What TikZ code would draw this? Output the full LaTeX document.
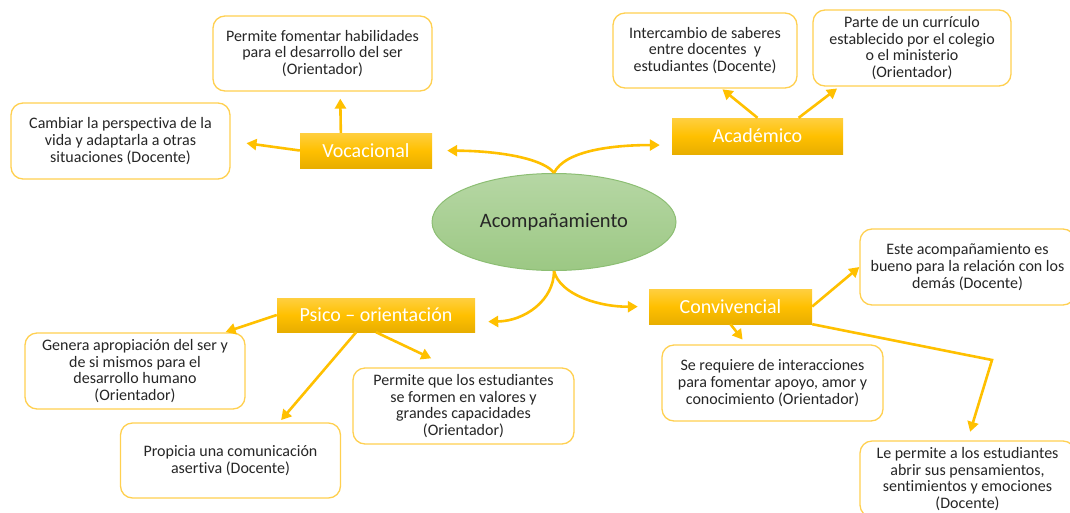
\documentclass[tikz,border=0pt]{standalone}
\usepackage{fontspec}
\setmainfont{Carlito}[Ligatures={NoCommon}]
\usetikzlibrary{arrows.meta,calc,shapes.geometric}
\definecolor{gold}{RGB}{255,192,0}
\definecolor{boxline}{RGB}{255,208,80}
\definecolor{txt}{RGB}{38,38,38}
\definecolor{cattop}{RGB}{255,207,64}
\definecolor{catmid}{RGB}{255,192,0}
\definecolor{catbot}{RGB}{232,174,0}
\definecolor{elltop}{RGB}{182,215,164}
\definecolor{ellbot}{RGB}{156,200,132}
\definecolor{elldraw}{RGB}{140,190,115}
\begin{document}
\begin{tikzpicture}[x=1pt,y=-1pt,
  infobox/.style={draw=boxline, line width=1.3pt, rounded corners=12pt, fill=white,
    inner sep=0pt, align=center, text=txt, font=\fontsize{16}{16.8}\selectfont},
  catbox/.style={draw=none, top color=cattop, bottom color=catbot, middle color=catmid,
    inner sep=0pt, text=white, font=\fontsize{20}{22}\selectfont},
  arr/.style={draw=gold, line width=2.6pt, -{Triangle[length=10pt,width=11pt]}}]
\useasboundingbox (0,0) rectangle (1070,512);
\clip (0,0) rectangle (1070,512);

% central ellipse
\node[ellipse, draw=elldraw, line width=1pt, top color=elltop, bottom color=ellbot,
  minimum width=244pt, minimum height=97pt, inner sep=0pt, text=txt,
  font=\fontsize{20.5}{22}\selectfont] (ell) at (554,222) {Acompañamiento};

% category boxes
\node[catbox, minimum width=132pt, minimum height=35pt] (voc) at (366,150.5) {Vocacional};
\node[catbox, minimum width=171pt, minimum height=36pt] (aca) at (757.5,136) {Académico};
\node[catbox, minimum width=198pt, minimum height=34pt] (psi) at (376,315) {Psico -- orientación};
\node[catbox, minimum width=163pt, minimum height=35pt] (con) at (730.5,306.5) {Convivencial};

% info boxes
\node[infobox, minimum width=219pt, minimum height=75pt] (pf) at (322.5,53.5)
  {Permite fomentar habilidades\\para el desarrollo del ser\\(Orientador)};
\node[infobox, minimum width=219pt, minimum height=76pt] (cam) at (120.5,141)
  {Cambiar la perspectiva de la\\vida y adaptarla a otras\\situaciones (Docente)};
\node[infobox, minimum width=184pt, minimum height=75pt] (ic) at (705,50.5)
  {Intercambio de saberes\\entre docentes\ \ y\\estudiantes (Docente)};
\node[infobox, minimum width=198pt, minimum height=76pt] (pa) at (912,48)
  {Parte de un currículo\\establecido por el colegio\\o el ministerio\\(Orientador)};
\node[infobox, minimum width=220pt, minimum height=76pt] (gen) at (135,371)
  {Genera apropiación del ser y\\de si mismos para el\\desarrollo humano\\(Orientador)};
\node[infobox, minimum width=221pt, minimum height=76pt] (pq) at (463.5,406)
  {Permite que los estudiantes\\se formen en valores y\\grandes capacidades\\(Orientador)};
\node[infobox, minimum width=220pt, minimum height=75pt] (pro) at (230.5,460.5)
  {Propicia una comunicación\\asertiva (Docente)};
\node[infobox, minimum width=215pt, minimum height=76pt] (est) at (967.5,267)
  {Este acompañamiento es\\bueno para la relación con los\\demás (Docente)};
\node[infobox, minimum width=221pt, minimum height=76pt] (sr) at (772.5,383)
  {Se requiere de interacciones\\para fomentar apoyo, amor y\\conocimiento (Orientador)};
\node[infobox, minimum width=215pt, minimum height=76pt] (lp) at (967.5,479)
  {Le permite a los estudiantes\\abrir sus pensamientos,\\sentimientos y emociones\\(Docente)};

% connectors from the centre
\draw[arr, shorten >=15pt] (ell.north) .. controls (545,160) and (505,151) .. (voc.east);
\draw[arr, shorten >=12pt] (ell.north) .. controls (565,150) and (615,145) ..
  ($(aca.south west)!0.25!(aca.north west)$);
\draw[arr, shorten >=13pt] (ell.south) .. controls (554,300) and (525,321) ..
  ($(psi.south east)!0.3!(psi.north east)$);
\draw[arr, shorten >=11pt] (ell.south) .. controls (560,295) and (600,307) .. (con.west);

% Vocacional
\draw[arr, shorten >=7pt] ($(voc.north west)!0.31!(voc.north east)$) --
  ($(pf.south west)!0.58!(pf.south east)$);
\draw[arr, shorten >=16pt] (voc.west) -- (cam.east);

% Academico
\draw[arr, shorten >=1pt] (aca.north) -- ($(ic.south west)!0.59!(ic.south east)$);
\draw[arr, shorten >=3pt] ($(aca.north west)!0.74!(aca.north east)$) --
  ($(pa.south west)!0.136!(pa.south east)$);

% Psico-orientacion
\draw[arr, shorten >=1pt] (psi.west) -- ($(gen.north west)!0.905!(gen.north east)$);
\draw[arr, shorten >=3pt] ($(psi.south west)!0.4!(psi.south east)$) --
  ($(pro.north west)!0.72!(pro.north east)$);
\draw[arr, shorten >=21pt] ($(psi.south west)!0.5!(psi.south east)$) --
  ($(pq.north west)!0.44!(pq.north east)$);

% Convivencial
\draw[arr] (con.east) -- (est.west);
\draw[arr, shorten >=6pt] (con.south) -- ($(sr.north west)!0.382!(sr.north east)$);
\coordinate (bend) at (992,360);
\draw[arr, shorten >=9pt] (con.south east) -- (bend) -- (lp.north);
\end{tikzpicture}
\end{document}
